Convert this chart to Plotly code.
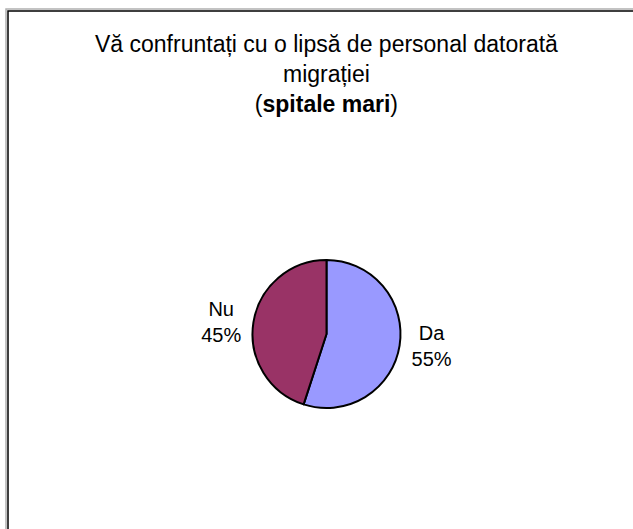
import plotly.graph_objects as go

W, H = 633, 529

etichete = ['Da', 'Nu']
procente = [55, 45]
culori = ['#9999FF', '#993366']

titlu = 'Vă confruntați cu o lipsă de personal datorată<br>migrației<br>(<b>spitale mari</b>)'

FONT = 'Liberation Sans, Arial, sans-serif'


def px(x):
    return x / W


def py(y):
    return 1 - y / H


fig = go.Figure(data=[
    go.Pie(
        labels=etichete,
        values=procente,
        marker=dict(colors=culori, line=dict(color='black', width=2)),
        sort=False,
        direction='clockwise',
        rotation=0,
        textposition='outside',
        texttemplate='%{label}<br>%{percent:.0%}',
        textfont=dict(family=FONT, size=20, color='black'),
        showlegend=False,
        hoverinfo='skip',
        domain=dict(x=[px(252.5), px(400.5)], y=[py(408), py(260)]),
    )
])

# chenarul graficului (stanga + sus)
fig.add_shape(type='path', xref='paper', yref='paper',
              path=f'M {px(6)} 0 L {px(6)} {py(9)} L 1 {py(9)}',
              line=dict(color='#b0b0b0', width=1.5))
fig.add_shape(type='path', xref='paper', yref='paper',
              path=f'M {px(8)} 0 L {px(8)} {py(11)} L 1 {py(11)}',
              line=dict(color='black', width=1.5))

fig.add_annotation(
    x=px(326.5), y=py(29), xref='paper', yref='paper',
    xanchor='center', yanchor='top', showarrow=False,
    text=titlu, align='center',
    font=dict(family=FONT, size=23, color='black'),
)

fig.update_layout(
    width=W, height=H,
    margin=dict(l=0, r=0, t=0, b=0),
    paper_bgcolor='white',
    plot_bgcolor='white',
)

fig.write_html('out.html', config={'displayModeBar': False},
               post_script="document.body.style.margin='0';")
